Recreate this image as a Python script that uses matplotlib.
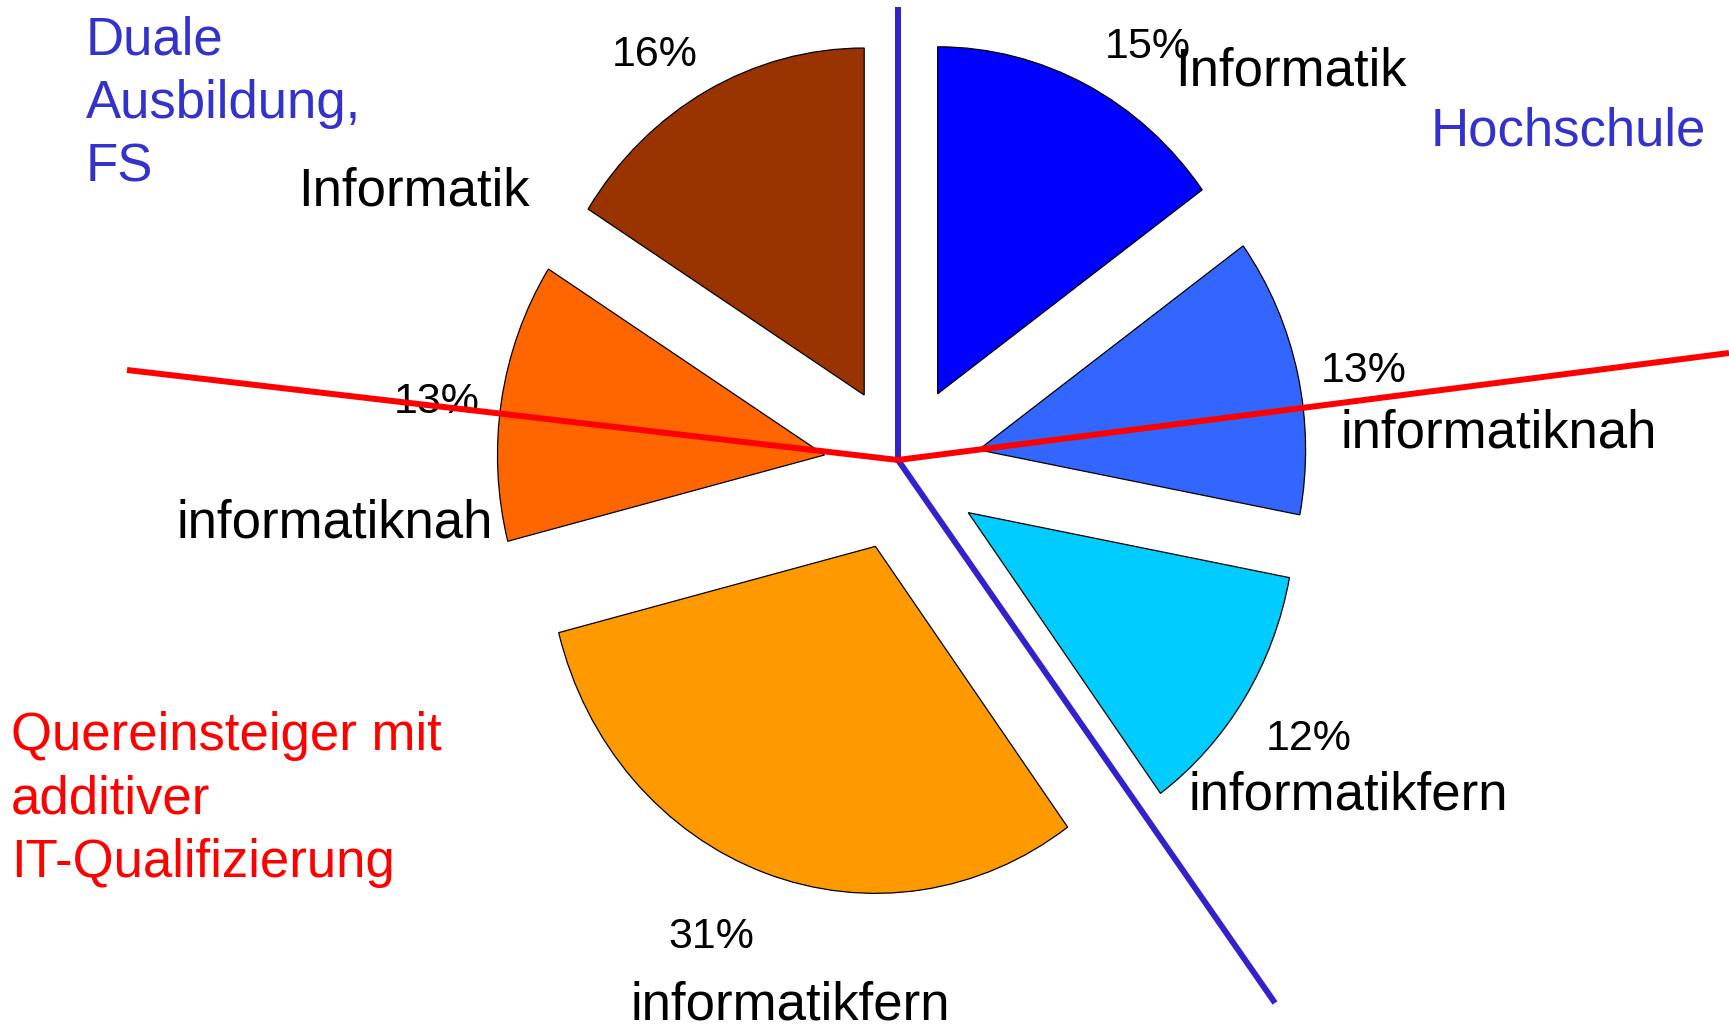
import matplotlib
matplotlib.use("Agg")
import matplotlib.pyplot as plt

plt.rcParams['font.family'] = ['Liberation Sans', 'DejaVu Sans']

# Data: shares of IT staff by qualification path (clockwise from top)
shares = [15, 13, 12, 31, 13, 16]
kinds = ['Informatik', 'informatiknah', 'informatikfern',
         'informatikfern', 'informatiknah', 'Informatik']
colors = ['#0000FF', '#3366FF', '#00CCFF', '#FF9900', '#FF6600', '#993300']

groups = ['Hochschule', 'Duale\nAusbildung,\nFS',
          'Quereinsteiger mit\nadditiver\nIT-Qualifizierung']
group_colors = ['#3333CC', '#3333CC', '#FF0000']

W, H = 1729, 1031
fig = plt.figure(figsize=(W / 100, H / 100), dpi=100)
ax = fig.add_axes([0, 0, 1, 1])

ax.pie(shares, colors=colors, explode=[0.24] * len(shares), startangle=90,
       counterclock=False, radius=1.0,
       wedgeprops=dict(edgecolor='black', linewidth=0.9))

# the pie is drawn a bit taller than wide, as in the slide
ax.set_aspect('auto')
cx, cy = 902, 468          # pie centre in pixels (from top-left)
rx, ry = 327, 347          # horizontal / vertical radius in pixels
ax.set_xlim(-cx / rx, (W - cx) / rx)
ax.set_ylim(-(H - cy) / ry, cy / ry)
ax.axis('off')


def put(x, y, s, **kw):
    # y is the baseline of the last line of s
    ax.text(x / W, 1 - y / H, s, transform=ax.transAxes, ha='left',
            va='baseline', **kw)


# percentage and category labels (left x, baseline y in pixels)
pct_pos = [(1105, 58), (1321, 382), (1266, 750), (668, 948), (394, 413), (612, 66)]
kind_pos = [(1175, 85), (1341, 447), (1189, 810), (631, 1020), (176, 537), (298, 206)]
for v, k, pp, kp in zip(shares, kinds, pct_pos, kind_pos):
    put(pp[0], pp[1], f'{v}%', fontsize=31, color='black', zorder=4)
    put(kp[0], kp[1], k, fontsize=38, color='black', zorder=4)

# group headings
group_pos = [(1431, 146), (86, 182), (11, 877)]
for g, c, p in zip(groups, group_colors, group_pos):
    put(p[0], p[1], g, fontsize=38, color=c, linespacing=1.35, zorder=4)

# dividing lines between the three groups
hub = (898, 460)
for end, c in [((898, 7), '#3322CC'), ((1275, 1003), '#3322CC'),
               ((127, 370), '#FF0000'), ((1729, 353), '#FF0000')]:
    ax.plot([hub[0] / W, end[0] / W], [1 - hub[1] / H, 1 - end[1] / H],
            transform=ax.transAxes, color=c, lw=4.3,
            solid_capstyle='butt', zorder=5)

fig.savefig('out.png', dpi=100)
